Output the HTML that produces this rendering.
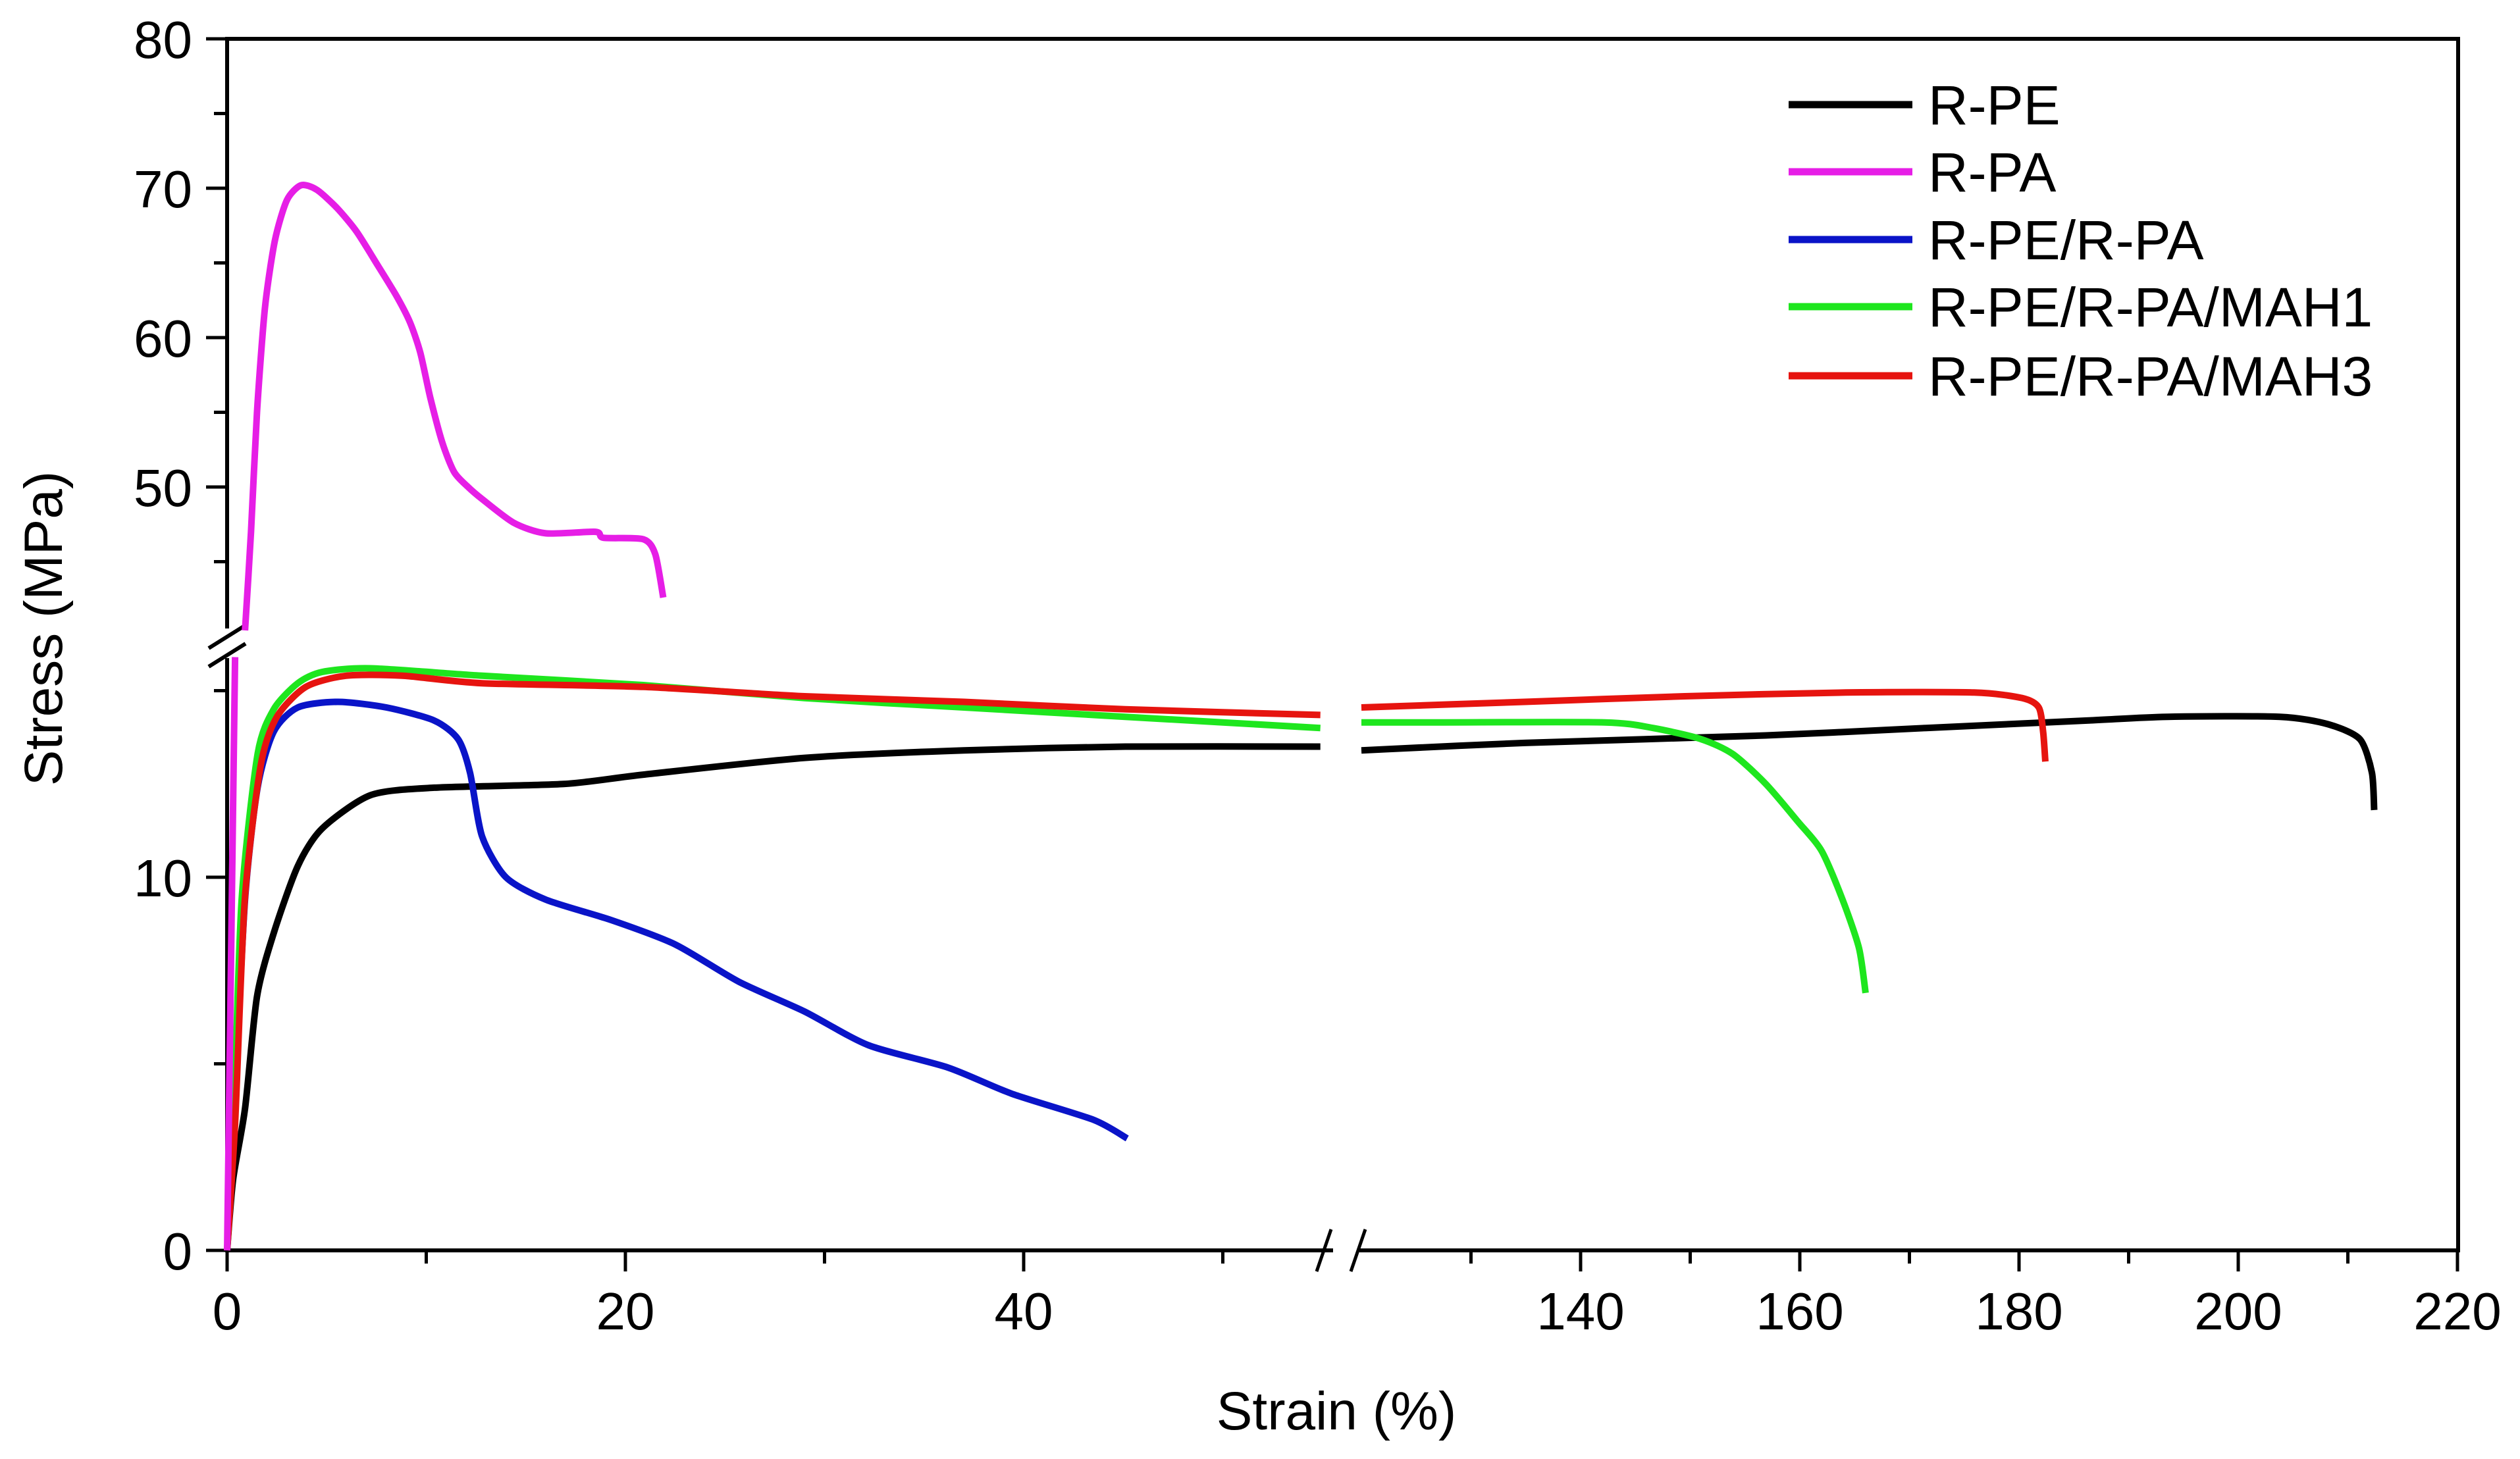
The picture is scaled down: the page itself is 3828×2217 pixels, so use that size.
<!DOCTYPE html>
<html><head><meta charset="utf-8"><style>
html,body{margin:0;padding:0;background:#fff;}
svg{display:block;}
text{font-family:"Liberation Sans",Arial,sans-serif;fill:#000;}
</style></head><body>
<svg id="chart" width="3828" height="2217" viewBox="0 0 3828 2217" xmlns="http://www.w3.org/2000/svg">
<g id="axes"></g>
<g id="series"></g>
<g id="legend"></g>
<text x="2030" y="2172" font-size="82" text-anchor="middle">Strain (%)</text>
<text transform="translate(94,955) rotate(-90)" font-size="82" text-anchor="middle">Stress (MPa)</text>
</svg>
<script>
// ---- data ----
const seriesNames = ["R-PE","R-PA","R-PE/R-PA","R-PE/R-PA/MAH1","R-PE/R-PA/MAH3"];
const seriesColors = ["#000000","#e61ee6","#0a14c8","#1ee61e","#e6140f"];
// R-PE
const pe_left_x = [0,0.3,0.9,1.5,2.34,3.55,4.76,7.2,10.4,16.9,20.9,29,37,45.1,54.9];
const pe_left_y = [0,1.9,3.8,6.8,8.5,10.3,11.3,12.2,12.4,12.5,12.75,13.2,13.4,13.5,13.5];
const pe_right_x = [120,134.9,156.9,171.5,186.2,193.5,203.8,208.2,211.1,212.2,212.4];
const pe_right_y = [13.4,13.6,13.8,14.0,14.2,14.3,14.3,14.1,13.7,12.8,11.8];
// R-PA
const pa_low_x = [0,0.2,0.4];
const pa_low_y = [0,8,15.9];
const pa_up_x = [0.9,1.2,1.5,1.9,2.4,3.0,3.71,4.5,5.5,6.5,7.58,8.5,9.19,9.7,10.2,10.8,11.4,12.1,12.8,14.4,16.0,18.5,18.9,20.9,21.5,21.9];
const pa_up_y = [40.4,47,55,62,66.5,69.2,70.2,69.9,68.7,67.1,64.8,62.8,61.0,59.0,56.0,53.0,51.0,50.0,49.2,47.6,46.9,47.0,46.6,46.5,45.5,42.6];
// R-PE/R-PA
const blend_x = [0,0.4,0.9,1.53,2.34,3.55,5.56,8.0,10.4,11.6,12.2,12.8,14.0,16.0,19.3,22.5,25.7,29,32.2,36.2,39.4,43.5,45.2];
const blend_y = [0,4.2,9.4,12.4,13.9,14.55,14.7,14.55,14.2,13.7,12.8,11.1,10.0,9.4,8.85,8.2,7.2,6.4,5.5,4.9,4.2,3.5,3.0];
// MAH1
const m1_left_x = [0,0.32,0.73,1.53,2.34,3.55,4.76,7.2,12.8,20.9,29,37,45.1,54.9];
const m1_left_y = [0,3.4,9.4,13.3,14.5,15.2,15.5,15.6,15.4,15.15,14.8,14.55,14.3,14.0];
const m1_right_x = [120,127.5,142.2,146.6,151.0,153.9,156.9,159.8,162.0,163.9,165.4,166.0];
const m1_right_y = [14.15,14.15,14.15,14.0,13.7,13.3,12.5,11.5,10.7,9.4,8.1,6.9];
// MAH3
const m3_left_x = [0,0.4,0.89,1.69,2.5,3.95,5.97,8.8,12.8,20.9,29,37,45.1,54.9];
const m3_left_y = [0,3.4,9.4,13.0,14.3,15.1,15.4,15.4,15.2,15.1,14.85,14.7,14.5,14.35];
const m3_right_x = [120,134.9,149.5,164.2,175.9,180.3,181.8,182.2,182.4];
const m3_right_y = [14.55,14.7,14.85,14.95,14.95,14.8,14.55,13.9,13.1];
// ticks
const xTicksLeft = [0,20,40];
const xMinorLeft = [10,30,50];
const xTicksRight = [140,160,180,200,220];
const xMinorRight = [130,150,170,190,210];
const yTicksLow = [0,10];
const yMinorLow = [5,15];
const yTicksUp = [50,60,70,80];
const yMinorUp = [45,55,65,75];

// ---- scales ----
const X0 = 345, XR = 3734;
function xs(v){ return v <= 56 ? X0 + v*30.25 : 2401 + (v-140)*16.65; }
function ys(v){ return v <= 16 ? 1900 - v*56.7 : 59 + (80-v)*22.7; }

const NS = "http://www.w3.org/2000/svg";
function mk(tag, attrs, parent){
  const e = document.createElementNS(NS, tag);
  for (const k in attrs) e.setAttribute(k, attrs[k]);
  parent.appendChild(e); return e;
}
const axes = document.getElementById('axes');
const st = {stroke:"#000","stroke-width":6,fill:"none"};
let el;
el = mk('path', Object.assign({d:`M${X0},955 L${X0},59 L${XR},59 L${XR},1900 L${X0},1900 L${X0},1000`}, st), axes);


el = mk('path', {d:`M${X0-28},985 L${X0+28},950 M${X0-28},1013 L${X0+28},978`, stroke:"#000","stroke-width":6,fill:"none"}, axes);


mk('rect',{x:2025,y:1890,width:40,height:20,fill:"#fff"},axes);
el = mk('path', {d:`M2000,1932 L2022,1868 M2052,1932 L2074,1868`, stroke:"#000","stroke-width":5,fill:"none"}, axes);



function xtick(v, major){
  const x = xs(v);
  const t = mk('line',{x1:x,x2:x,y1:1900,y2:major?1932:1920,stroke:"#000","stroke-width":5},axes);
  
  
  if (major){
    const l = mk('text',{x:x,y:2020,"font-size":80,"text-anchor":"middle"},axes);
    l.textContent = v;
    
    
  }
}
function ytick(v, major){
  const y = ys(v);
  const t = mk('line',{x1:X0,x2:major?X0-32:X0-20,y1:y,y2:y,stroke:"#000","stroke-width":5},axes);
  
  
  if (major){
    const l = mk('text',{x:292,y:y+29,"font-size":80,"text-anchor":"end"},axes);
    l.textContent = v;
    
    
  }
}
xTicksLeft.forEach(v=>xtick(v,true));
xMinorLeft.forEach(v=>xtick(v,false));
xTicksRight.forEach(v=>xtick(v,true));
xMinorRight.forEach(v=>xtick(v,false));
yTicksLow.forEach(v=>ytick(v,true));
yMinorLow.forEach(v=>ytick(v,false));
yTicksUp.forEach(v=>ytick(v,true));
yMinorUp.forEach(v=>ytick(v,false));

// ---- series (Catmull-Rom smoothed) ----
const sg = document.getElementById('series');
function line(xa, ya, color, name){
  const P = xa.map((v,i)=>[xs(v), ys(ya[i])]);
  let d = 'M' + P[0][0].toFixed(1) + ',' + P[0][1].toFixed(1);
  for (let i=0;i<P.length-1;i++){
    const p0 = P[Math.max(0,i-1)], p1 = P[i], p2 = P[i+1], p3 = P[Math.min(P.length-1,i+2)];
    const k = 1/8;
    const c1 = [p1[0]+(p2[0]-p0[0])*k, p1[1]+(p2[1]-p0[1])*k];
    const c2 = [p2[0]-(p3[0]-p1[0])*k, p2[1]-(p3[1]-p1[1])*k];
    d += 'C' + c1[0].toFixed(1)+','+c1[1].toFixed(1)+' '+c2[0].toFixed(1)+','+c2[1].toFixed(1)+' '+p2[0].toFixed(1)+','+p2[1].toFixed(1);
  }
  const p = mk('path',{d:d,stroke:color,"stroke-width":10,fill:"none","stroke-linejoin":"round"},sg);
  
  
}
line(pe_left_x, pe_left_y, seriesColors[0], 'r-pe-line-left');
line(pe_right_x, pe_right_y, seriesColors[0], 'r-pe-line-right');
line(blend_x, blend_y, seriesColors[2], 'r-pe-r-pa-line');
line(m1_left_x, m1_left_y, seriesColors[3], 'mah1-line-left');
line(m1_right_x, m1_right_y, seriesColors[3], 'mah1-line-right');
line(m3_left_x, m3_left_y, seriesColors[4], 'mah3-line-left');
line(m3_right_x, m3_right_y, seriesColors[4], 'mah3-line-right');
line(pa_low_x, pa_low_y, seriesColors[1], 'r-pa-line-lower');
line(pa_up_x, pa_up_y, seriesColors[1], 'r-pa-line-upper');

// ---- legend ----
const lg = document.getElementById('legend');
const rowsY = [159,261,364,466,571];
seriesNames.forEach((n,i)=>{
  const g = mk('g',{},lg);
  
  
  mk('line',{x1:2717,x2:2905,y1:rowsY[i],y2:rowsY[i],stroke:seriesColors[i],"stroke-width":11},g);
  const t = mk('text',{x:2929,y:rowsY[i]+30,"font-size":84},g);
  t.textContent = n;
});
</script>
</body></html>
